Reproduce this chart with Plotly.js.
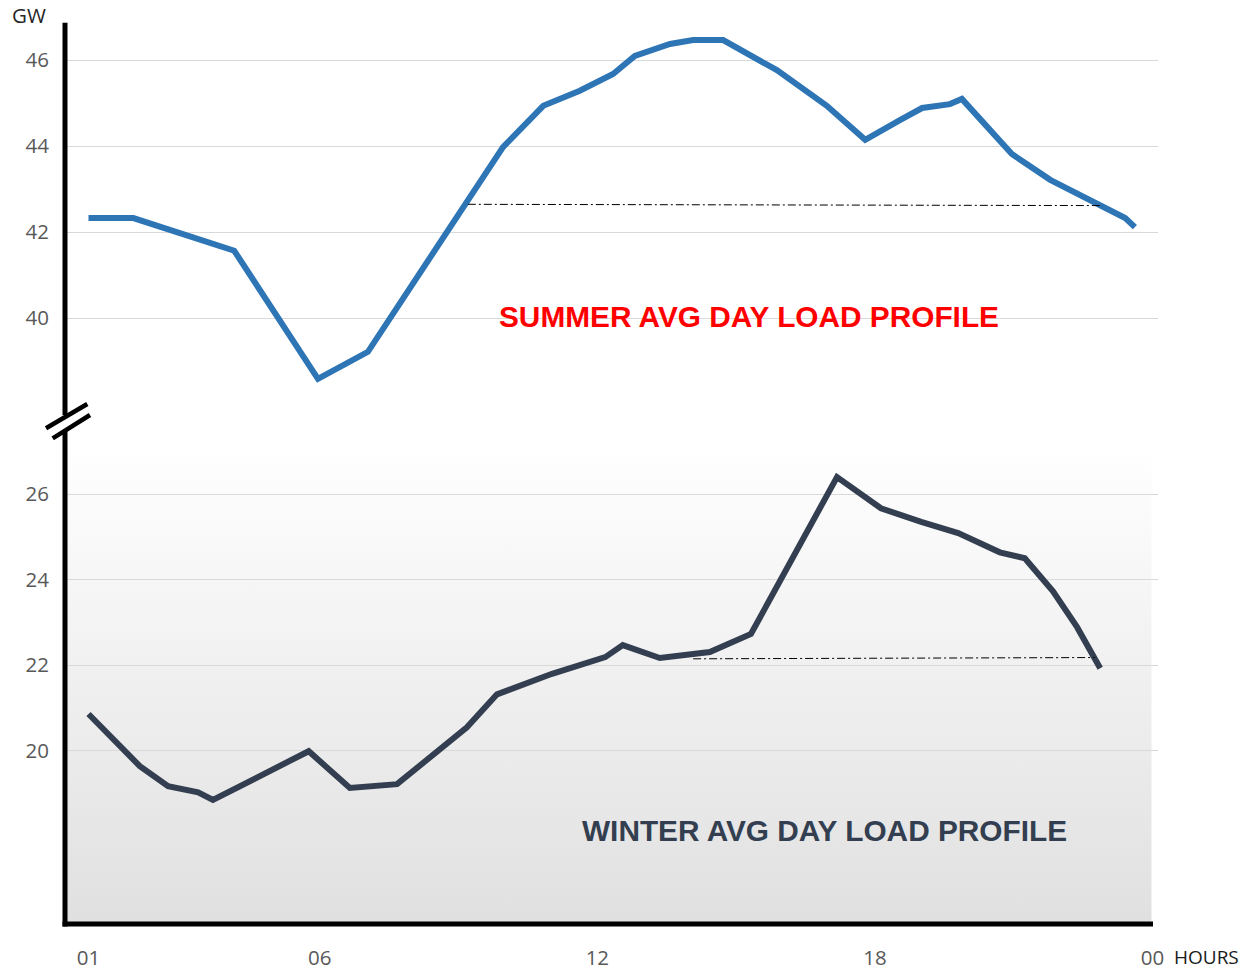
<!DOCTYPE html>
<html><head><meta charset="utf-8">
<script src="https://cdn.plot.ly/plotly-3.0.1.min.js"></script>
<style>html,body{margin:0;padding:0;background:#fff;}#chart{width:1243px;height:971px;}</style>
</head><body><div id="chart"></div>
<script>
// ---- data (hours of day, GW) ----
const summerHours = [1.0, 1.97, 4.15, 5.96, 7.04, 9.61, 9.96, 10.83, 11.62, 12.34, 12.81, 13.57, 14.07, 14.72, 15.24, 15.88, 16.96, 17.53, 17.79, 18.54, 19.02, 19.62, 19.88, 20.31, 20.70, 20.96, 21.79, 23.41, 23.62];
const summerGW    = [42.33, 42.33, 41.57, 38.59, 39.22, 43.45, 43.98, 44.94, 45.29, 45.68, 46.10, 46.38, 46.47, 46.47, 46.17, 45.77, 44.94, 44.38, 44.15, 44.61, 44.89, 44.98, 45.10, 44.59, 44.10, 43.82, 43.22, 42.33, 42.12];
const winterHours = [1.0, 2.11, 2.72, 3.37, 3.69, 5.76, 6.65, 7.67, 9.18, 9.83, 11.02, 12.17, 12.55, 13.35, 14.43, 15.32, 17.18, 18.13, 19.0, 19.80, 20.70, 21.24, 21.85, 22.37, 22.87];
const winterGW    = [20.86, 19.64, 19.17, 19.03, 18.85, 19.99, 19.13, 19.22, 20.55, 21.32, 21.80, 22.19, 22.47, 22.17, 22.31, 22.73, 26.40, 25.67, 25.35, 25.09, 24.64, 24.50, 23.73, 22.89, 21.93];
const summerRefHours = [9.20, 22.93];
const summerRefGW    = [42.65, 42.62];
const winterRefHours = [14.07, 22.76];
const winterRefGW    = [22.15, 22.18];
const xTickVals = [1, 6, 12, 18, 24];
const xTickText = ['01', '06', '12', '18', '00'];
const summerTicks = [40, 42, 44, 46];
const winterTicks = [20, 22, 24, 26];
const summerLabel = 'SUMMER AVG DAY LOAD PROFILE';
const winterLabel = 'WINTER AVG DAY LOAD PROFILE';

// ---- geometry helpers (pixel -> paper) ----
const L = 65, R = 1158, T = 22, B = 924;
const px = x => (x - L) / (R - L);
const py = y => (B - y) / (B - T);

const tickFont = {family: 'Open Sans, sans-serif', size: 20.5, color: '#595959'};

const traces = [
  {x: summerHours, y: summerGW, xaxis: 'x', yaxis: 'y2', mode: 'lines', line: {color: '#2e75b6', width: 6}},
  {x: summerRefHours, y: summerRefGW, xaxis: 'x', yaxis: 'y2', mode: 'lines', line: {color: '#000', width: 1, dash: '8px,3px,2px,3px'}},
  {x: winterHours, y: winterGW, xaxis: 'x', yaxis: 'y', mode: 'lines', line: {color: '#333f50', width: 6}},
  {x: winterRefHours, y: winterRefGW, xaxis: 'x', yaxis: 'y', mode: 'lines', line: {color: '#000', width: 1, dash: '8px,3px,2px,3px'}}
];

const grad = "<svg xmlns='http://www.w3.org/2000/svg' width='100' height='100' preserveAspectRatio='none'><defs><linearGradient id='g' x1='0' y1='0' x2='0' y2='1'><stop offset='0.03' stop-color='#ffffff'/><stop offset='1' stop-color='#e0e0e0'/></linearGradient></defs><rect width='100' height='100' fill='url(#g)'/></svg>";

const blk = {color: '#000', width: 5};
const layout = {
  width: 1243, height: 971,
  margin: {l: L, r: 1243 - R, t: T, b: 971 - B, pad: 0},
  paper_bgcolor: '#ffffff', plot_bgcolor: 'rgba(0,0,0,0)',
  showlegend: false,
  xaxis: {range: [1 + (L - 88.5) / 46.26, 1 + (R - 88.5) / 46.26], tickvals: xTickVals, ticktext: xTickText,
          showgrid: false, zeroline: false, showline: false, ticks: '', tickfont: tickFont, ticklabelstandoff: 19, anchor: 'y'},
  yaxis: {domain: [0, py(430)], range: [15.95, 27.50], tickvals: winterTicks, showgrid: true, gridcolor: '#d9d9d9', gridwidth: 1,
          zeroline: false, showline: false, ticks: '', tickfont: tickFont, ticklabelstandoff: 15, anchor: 'x'},
  yaxis2: {domain: [py(415), 1], range: [37.75, 46.89], tickvals: summerTicks, showgrid: true, gridcolor: '#d9d9d9', gridwidth: 1,
          zeroline: false, showline: false, ticks: '', tickfont: tickFont, ticklabelstandoff: 15, anchor: 'x'},
  images: [{source: 'data:image/svg+xml;charset=utf-8,' + encodeURIComponent(grad), xref: 'paper', yref: 'paper',
            x: 0, y: py(430), sizex: px(1151.7), sizey: py(430), xanchor: 'left', yanchor: 'top', sizing: 'stretch', layer: 'below'}],
  shapes: [
    {type: 'line', xref: 'paper', yref: 'paper', x0: 0, x1: 0, y0: py(415), y1: py(22.7), line: blk},
    {type: 'line', xref: 'paper', yref: 'paper', x0: 0, x1: 0, y0: py(926.5), y1: py(430), line: blk},
    {type: 'line', xref: 'paper', yref: 'paper', x0: px(62.5), x1: px(1153), y0: py(924), y1: py(924), line: blk},
    {type: 'line', xref: 'paper', yref: 'paper', x0: px(46), x1: px(87.3), y0: py(428.3), y1: py(404), line: {color: '#000', width: 4.5}},
    {type: 'line', xref: 'paper', yref: 'paper', x0: px(52.7), x1: px(90), y0: py(438.3), y1: py(415), line: {color: '#000', width: 4.5}}
  ],
  annotations: [
    {text: '<b>' + summerLabel + '</b>', xref: 'paper', yref: 'paper', x: px(749), y: py(316), xanchor: 'center', yanchor: 'middle',
     showarrow: false, font: {family: 'Liberation Sans, Arial, sans-serif', size: 29.8, color: '#ff0000'}},
    {text: '<b>' + winterLabel + '</b>', xref: 'paper', yref: 'paper', x: px(824.5), y: py(830), xanchor: 'center', yanchor: 'middle',
     showarrow: false, font: {family: 'Liberation Sans, Arial, sans-serif', size: 29.8, color: '#333f50'}},
    {text: 'GW', xref: 'paper', yref: 'paper', x: px(29), y: py(15), xanchor: 'center', yanchor: 'middle',
     showarrow: false, font: {family: 'Open Sans, sans-serif', size: 20.5, color: '#262626'}},
    {text: 'HOURS', xref: 'paper', yref: 'paper', x: px(1206), y: py(957), xanchor: 'center', yanchor: 'middle',
     showarrow: false, font: {family: 'Open Sans, sans-serif', size: 19, color: '#1a1a1a'}}
  ]
};

Plotly.newPlot('chart', traces, layout, {staticPlot: true, displayModeBar: false});
</script>
</body></html>
